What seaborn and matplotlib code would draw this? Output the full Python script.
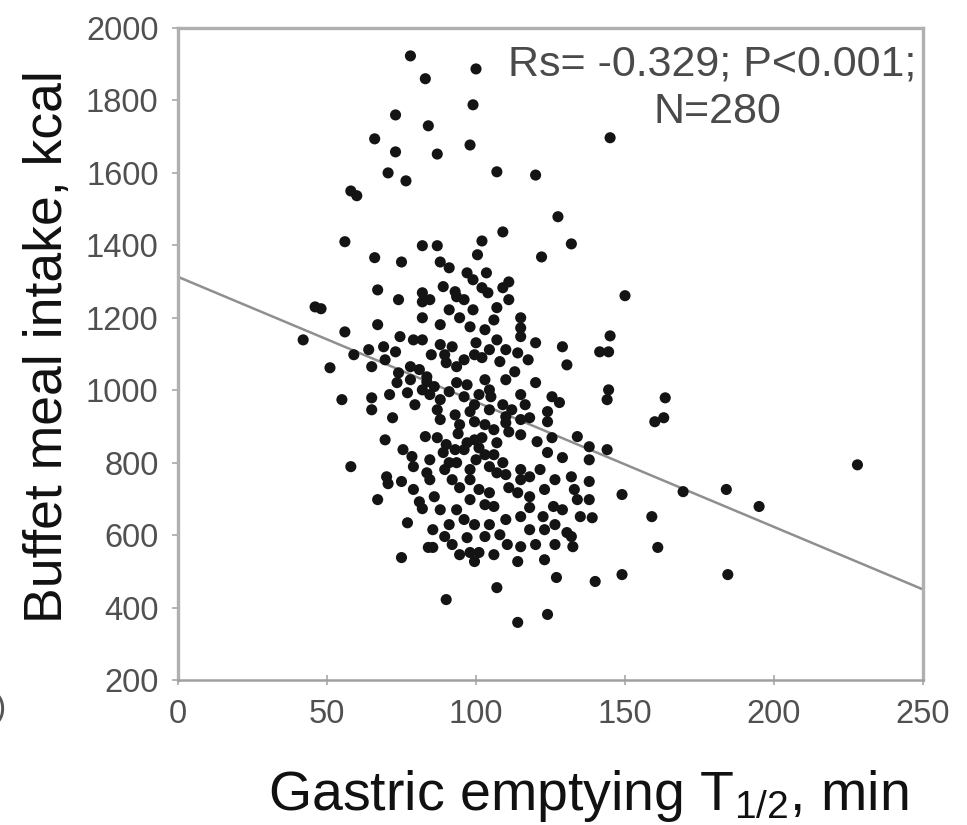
import matplotlib
matplotlib.use("Agg")
import matplotlib.pyplot as plt
import seaborn as sns
import pandas as pd

# ---- data ----
gastric_t_half = [
    78, 83, 100, 99, 73, 84, 66, 98, 73, 87,
    70.5, 76.5, 107, 58, 60, 120, 145, 127.5, 109, 102,
    132, 56, 82, 87, 66, 75, 67, 74, 82, 82,
    46, 48, 82, 67, 56, 42, 74.5, 79, 82, 59,
    64, 69, 73, 65, 51, 74, 78, 81, 83.5, 73.5,
    77, 82, 55, 65, 65, 72, 83, 75.5, 58, 78.5,
    79, 70, 70.5, 75, 79, 81, 82, 67, 83.5, 77,
    84, 75, 100.5, 88, 91, 122, 97, 99, 103.5, 111,
    109, 84.5, 89, 93, 93.5, 102, 104, 99, 107, 94.5,
    98, 106, 115, 115, 107, 115, 114, 120, 88, 92,
    90, 93.5, 100, 99.5, 102, 108, 129, 130.5, 83.5, 86,
    88, 87, 93.5, 97, 96, 103, 104.5, 105, 110, 120,
    109, 110, 110, 115, 118, 125.5, 128, 124, 124, 94.5,
    99.5, 87, 94, 97, 102, 107, 120.5, 125.5, 150, 145,
    141.5, 144.5, 144.5, 144, 163.5, 160, 163, 99.5, 89, 91,
    93.5, 100, 104.5, 107, 109, 124, 129, 94.5, 86, 104.5,
    106, 103, 111, 114, 118, 118, 121.5, 93.5, 96, 115,
    118, 122.5, 123, 126, 129, 130.5, 85.5, 89.5, 92, 85.5,
    97, 98, 99.5, 101, 103, 110.5, 115, 114, 127, 107,
    90, 124, 114, 134, 138, 138, 144, 132, 133, 134,
    138, 138, 135, 139, 132, 132.5, 149, 159, 161, 169.5,
    184, 140, 149, 184.5, 228, 195, 90, 93, 96, 101,
    98, 89.5, 103, 106, 85, 89.5, 96, 104.5, 84.5, 91,
    101, 99.5, 104.5, 98, 93, 88, 103, 106, 111, 112,
    116.5, 115, 113, 117.5, 111, 96, 91, 88, 103, 110,
    110, 115, 115, 123, 126.5, 98, 101, 98, 88, 91,
    99.5, 104.5, 110, 108, 118, 120, 94.5, 106, 123, 126.5,
    126.5, 84.5, 84.5, 69.5, 78, 71, 79.5, 69.5, 92, 115,
]
buffet_kcal = [
    1923, 1860, 1887, 1788, 1760, 1730, 1694, 1677, 1658, 1652,
    1600, 1578, 1603, 1550, 1537, 1594, 1697, 1479, 1437, 1412,
    1404, 1410, 1399, 1399, 1366, 1354, 1277, 1250, 1269, 1244,
    1230, 1225, 1200, 1181, 1161, 1139, 1148, 1139, 1139, 1098,
    1112, 1120, 1106, 1065, 1062, 1048, 1065, 1057, 1037, 1021,
    993, 1001, 974, 979, 946, 924, 872, 836, 789, 817,
    789, 761, 742, 748, 726, 692, 673, 698, 772, 634,
    566, 538, 1374, 1354, 1338, 1368, 1324, 1305, 1324, 1299,
    1283, 1250, 1286, 1272, 1258, 1283, 1269, 1222, 1228, 1200,
    1175, 1194, 1200, 1172, 1139, 1148, 1103, 1131, 1126, 1120,
    1076, 1065, 1131, 1098, 1090, 1079, 1120, 1070, 1023, 1010,
    974, 946, 1021, 1015, 982, 1029, 1001, 982, 1029, 1021,
    960, 927, 910, 919, 924, 982, 966, 941, 913, 905,
    913, 869, 880, 855, 869, 855, 858, 869, 1261, 1150,
    1106, 1106, 1001, 974, 979, 913, 924, 863, 828, 800,
    800, 808, 789, 772, 800, 828, 814, 731, 706, 717,
    679, 684, 731, 717, 761, 706, 781, 670, 643, 651,
    676, 651, 615, 679, 670, 607, 615, 596, 574, 566,
    593, 552, 527, 552, 596, 574, 568, 527, 483, 455,
    422, 381, 359, 872, 844, 808, 836, 761, 726, 698,
    748, 698, 651, 648, 596, 568, 712, 651, 566, 720,
    726, 472, 491, 491, 794, 679, 850, 836, 836, 841,
    781, 781, 822, 822, 1098, 1098, 1084, 1112, 988, 996,
    988, 960, 946, 941, 932, 919, 905, 891, 885, 946,
    960, 988, 1051, 1084, 1250, 1250, 1222, 1181, 1167, 1112,
    767, 781, 753, 726, 753, 753, 726, 698, 670, 629,
    629, 629, 643, 601, 615, 574, 546, 546, 532, 574,
    629, 753, 808, 1084, 1029, 988, 960, 863, 753, 877,
]
fit_x = [0, 250]
fit_y = [1313, 450]
x_ticks = [0, 50, 100, 150, 200, 250]
y_ticks = [200, 400, 600, 800, 1000, 1200, 1400, 1600, 1800, 2000]
stat_line1 = "Rs= -0.329; P<0.001;"
stat_line2 = "N=280"
x_label = r"Gastric emptying T$_{\mathrm{1/2}}$, min"
y_label = "Buffet meal intake, kcal"

df = pd.DataFrame({"t_half": gastric_t_half, "kcal": buffet_kcal})

sns.set_theme(style="white")
plt.rcParams["font.family"] = ["Liberation Sans", "DejaVu Sans"]
plt.rcParams["mathtext.fontset"] = "custom"
plt.rcParams["mathtext.rm"] = "Liberation Sans"
plt.rcParams["mathtext.it"] = "Liberation Sans:italic"
plt.rcParams["mathtext.bf"] = "Liberation Sans:bold"

fig = plt.figure(figsize=(9.67, 8.25), dpi=100)
fig.patch.set_facecolor("white")
ax = fig.add_axes([0.18407, 0.17576, 0.77043, 0.79030])

sns.lineplot(x=fit_x, y=fit_y, color="#8f8f8f", linewidth=1.8, ax=ax, zorder=1)
sns.scatterplot(data=df, x="t_half", y="kcal", color="#141414", s=64,
                edgecolor="none", linewidth=0, ax=ax, zorder=2, legend=False)

ax.set_xlim(0, 250)
ax.set_ylim(200, 2000)
ax.set_xticks(x_ticks)
ax.set_yticks(y_ticks)
ax.set_xlabel("")
ax.set_ylabel("")

for side in ["left", "right", "top", "bottom"]:
    ax.spines[side].set_visible(True)
    ax.spines[side].set_color("#b0b0b0")
    ax.spines[side].set_linewidth(2.4)
ax.spines["bottom"].set_color("#a0a0a0")
ax.spines["bottom"].set_linewidth(1.8)

ax.tick_params(axis="y", left=True, direction="out", length=4, width=1.2,
               color="#a8a8a8", labelsize=23.5, labelcolor="#505050", pad=10)
ax.tick_params(axis="x", bottom=True, direction="inout", length=7, width=1.2,
               color="#a8a8a8", labelsize=23.5, labelcolor="#505050", pad=10)

fig.text(0.736, 0.909, stat_line1, ha="center", va="baseline",
         fontsize=31, color="#4a4a4a")
fig.text(0.7415, 0.851, stat_line2, ha="center", va="baseline",
         fontsize=31, color="#4a4a4a")

fig.text(0.0496, 0.58, y_label, rotation=90, ha="center", va="center",
         fontsize=38.5, color="#111111")
fig.text(0.608, 0.0182, x_label, ha="center", va="baseline",
         fontsize=40, color="#111111")
fig.text(0.006, 0.131, ")", ha="right", va="baseline", fontsize=24, color="#555555")

fig.savefig("out.png", dpi=100, facecolor="white")
